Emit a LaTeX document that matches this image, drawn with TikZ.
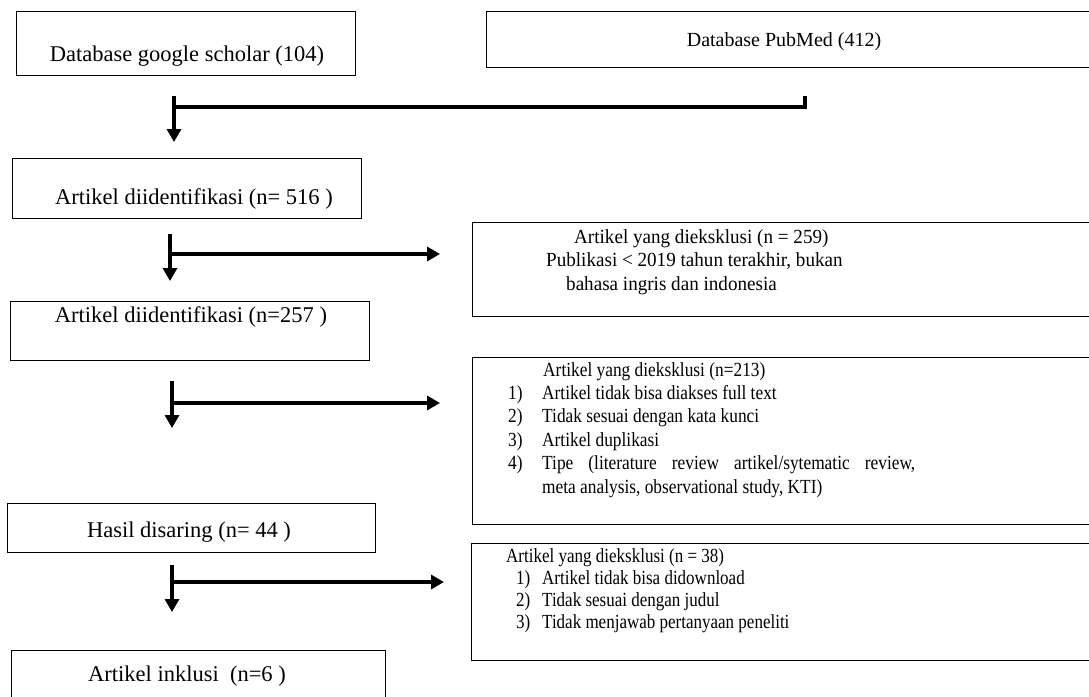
\documentclass[tikz,border=0pt]{standalone}
\usepackage{fontspec}
\setmainfont{Liberation Serif}
\newfontfamily\exfontA[FakeStretch=0.955]{Liberation Serif}
\newfontfamily\exfontB[FakeStretch=0.867]{Liberation Serif}
\newfontfamily\exfontC[FakeStretch=0.85]{Liberation Serif}
\newcommand\normsp{\spaceskip=0pt\xspaceskip=0pt\relax}
\usetikzlibrary{arrows.meta}

\begin{document}
\begin{tikzpicture}[x=1pt,y=-1pt,
  box/.style={draw, line width=1pt, inner sep=0pt},
  lbl/.style={inner sep=0pt, font=\fontsize{22.5}{27}\selectfont},
  txt/.style={inner sep=0pt, align=left, anchor=north west, text width=520},
  flow/.style={line width=4pt},
  flowarrow/.style={line width=4pt, -{Triangle[length=13pt,width=14pt]}}]
\useasboundingbox (0,0) rectangle (1089,696);
\clip (0,0) rectangle (1089,696);

% boxes
\node[box, minimum width=339, minimum height=64] (gs) at (185.5,43) {};
\node[box, minimum width=614, minimum height=56] (pm) at (793,39) {};
\node[box, minimum width=349, minimum height=60] (id1) at (186.5,188) {};
\node[box, minimum width=628, minimum height=94] (ex1) at (786,269) {};
\node[box, minimum width=359, minimum height=59] (id2) at (189.5,330.5) {};
\node[box, minimum width=628, minimum height=167] (ex2) at (786,440.5) {};
\node[box, minimum width=368, minimum height=49] (hs) at (191,527.5) {};
\node[box, minimum width=629, minimum height=117] (ex3) at (785.5,601.5) {};
\node[box, minimum width=374, minimum height=60] (inc) at (198,680) {};

% texts
\node[lbl] (gst) at (187,56) {Database google scholar (104)};
\node[lbl, font=\fontsize{20}{24}\selectfont] (pmt) at (784,42) {Database PubMed (412)};
\node[lbl] (id1t) at (194,199) {Artikel diidentifikasi (n= 516 )};
\node[lbl] (id2t) at (191,317) {Artikel diidentifikasi (n=257 )};
\node[lbl] (hst) at (189,532) {Hasil disaring (n= 44 )};
\node[lbl] (inct) at (187,676) {Artikel inklusi~ (n=6 )};

\node[txt, font=\exfontA\fontsize{20}{23.5}\selectfont] (ex1t) at (546,229) {\normsp
  \hspace*{28pt}Artikel yang dieksklusi (n = 259)\\
  Publikasi < 2019 tahun terakhir, bukan\\
  \hspace*{20pt}bahasa ingris dan indonesia};

\node[txt, font=\exfontB\fontsize{20}{23.4}\selectfont] (ex2t) at (508,362) {\normsp
  \hspace*{35pt}Artikel yang dieksklusi (n=213)\\
  \makebox[34pt][l]{1)}Artikel tidak bisa diakses full text\\
  \makebox[34pt][l]{2)}Tidak sesuai dengan kata kunci\\
  \makebox[34pt][l]{3)}Artikel duplikasi\\
  \makebox[34pt][l]{4)}\makebox[373pt][s]{Tipe (literature review artikel/sytematic review,}\\
  \hspace*{34pt}meta analysis, observational study, KTI)};

\node[txt, font=\exfontC\fontsize{20}{22}\selectfont] (ex3t) at (506,548) {\normsp
  Artikel yang dieksklusi (n = 38)\\
  \hspace*{10pt}\makebox[26pt][l]{1)}Artikel tidak bisa didownload\\
  \hspace*{10pt}\makebox[26pt][l]{2)}Tidak sesuai dengan judul\\
  \hspace*{10pt}\makebox[26pt][l]{3)}Tidak menjawab pertanyaan peneliti};

% connectors
\coordinate (a1) at (805,96);
\coordinate (a2) at (805,107);
\coordinate (a3) at (174,107);
\coordinate (a4) at (174,96);
\coordinate (a5) at (174,142);
\draw[flow] (a1) -- (a2) -- (a3);
\draw[flowarrow] (a4) -- (a5);

\coordinate (b1) at (170,234);
\coordinate (b2) at (170,281);
\coordinate (b3) at (170,254);
\coordinate (b4) at (440,254);
\draw[flowarrow] (b1) -- (b2);
\draw[flowarrow] (b3) -- (b4);

\coordinate (c1) at (172,381);
\coordinate (c2) at (172,428);
\coordinate (c3) at (172,403);
\coordinate (c4) at (440,403);
\draw[flowarrow] (c1) -- (c2);
\draw[flowarrow] (c3) -- (c4);

\coordinate (e1) at (172,565);
\coordinate (e2) at (172,612);
\coordinate (e3) at (172,582);
\coordinate (e4) at (444,582);
\draw[flowarrow] (e1) -- (e2);
\draw[flowarrow] (e3) -- (e4);
\end{tikzpicture}
\end{document}
